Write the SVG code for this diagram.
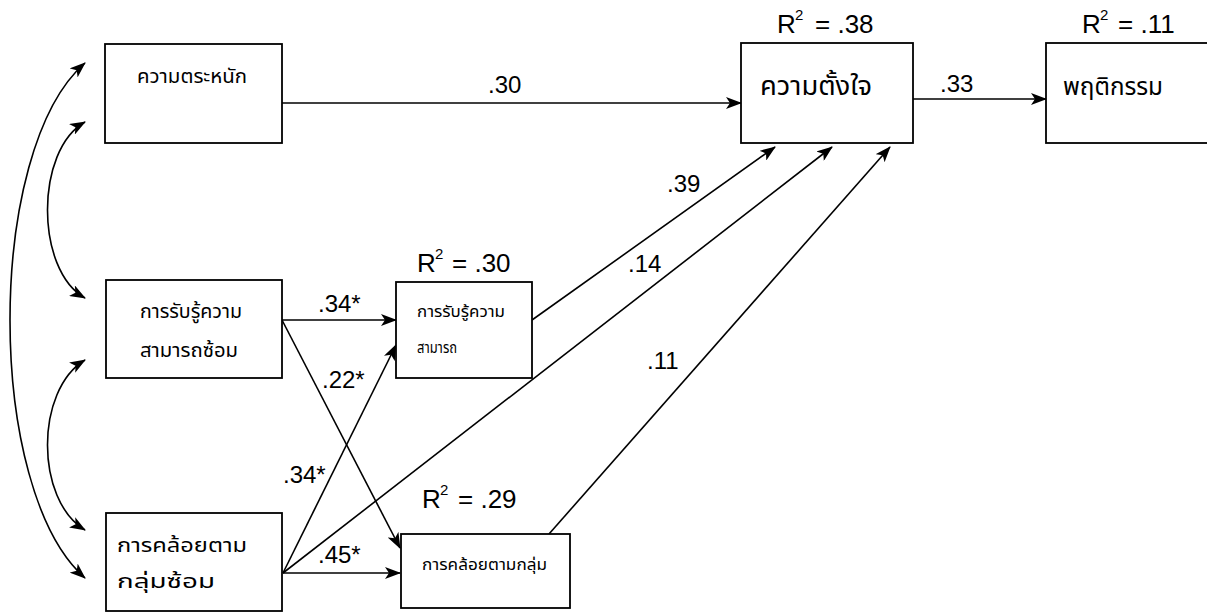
<svg xmlns="http://www.w3.org/2000/svg" width="1207" height="613" viewBox="0 0 1207 613">
<style>
.box{fill:#fff;stroke:#000;stroke-width:1.8}
.th{font-family:"Noto Sans Thai","Noto Sans","Liberation Sans",sans-serif;fill:#000;font-weight:normal}
.num{font-family:"Liberation Sans",Arial,sans-serif;font-size:24px;fill:#000}
.r2{font-family:"Liberation Sans",Arial,sans-serif;font-size:26px;fill:#000}
.sup{font-family:"Liberation Sans",Arial,sans-serif;font-size:15px;fill:#000}
.ln{fill:none;stroke:#000;stroke-width:1.6}
</style>
<defs>
<marker id="ah" markerUnits="userSpaceOnUse" viewBox="0 0 16 12" refX="15" refY="6" markerWidth="16" markerHeight="12" orient="auto-start-reverse">
<path d="M0,0 L16,6 L0,12 L4,6 z" fill="#000"/>
</marker>
</defs>
<rect width="1207" height="613" fill="#fff"/>
<g id="connectors">
<path class="ln" d="M85,63 C-15,150 -15,490 85,578" marker-start="url(#ah)" marker-end="url(#ah)"/>
<path class="ln" d="M85,122 C35,150 35,270 85,298" marker-start="url(#ah)" marker-end="url(#ah)"/>
<path class="ln" d="M85,360 C35,390 35,500 85,530" marker-start="url(#ah)" marker-end="url(#ah)"/>
<line class="ln" x1="282" y1="103" x2="741" y2="103" marker-end="url(#ah)"/>
<line class="ln" x1="913" y1="99" x2="1046" y2="99" marker-end="url(#ah)"/>
<line class="ln" x1="532" y1="320" x2="775" y2="147" marker-end="url(#ah)"/>
<line class="ln" x1="283" y1="573" x2="832" y2="147" marker-end="url(#ah)"/>
<line class="ln" x1="549" y1="534" x2="890" y2="147" marker-end="url(#ah)"/>
<line class="ln" x1="282" y1="320" x2="396" y2="320" marker-end="url(#ah)"/>
<line class="ln" x1="282" y1="320" x2="400" y2="548" marker-end="url(#ah)"/>
<line class="ln" x1="283" y1="573" x2="396" y2="345" marker-end="url(#ah)"/>
<line class="ln" x1="283" y1="573" x2="400" y2="573" marker-end="url(#ah)"/>
<text class="num" x="488" y="93">.30</text>
<text class="num" x="940" y="92">.33</text>
<text class="num" x="667" y="192">.39</text>
<text class="num" x="628" y="272">.14</text>
<text class="num" x="647" y="369">.11</text>
<text class="num" x="318" y="312">.34*</text>
<text class="num" x="322" y="388">.22*</text>
<text class="num" x="283" y="483">.34*</text>
<text class="num" x="318" y="563">.45*</text>
</g>
<g id="n_awareness">
<rect class="box" x="105" y="44" width="177" height="99"/>
<text class="th" x="137" y="83" font-size="19" textLength="110" lengthAdjust="spacingAndGlyphs">ความตระหนัก</text>
</g>
<g id="n_selfefficacy_practice">
<rect class="box" x="106" y="280" width="176" height="98"/>
<text class="th" x="140" y="318" font-size="19" textLength="102" lengthAdjust="spacingAndGlyphs">การรับรู้ความ</text>
<text class="th" x="140" y="357" font-size="19" textLength="98" lengthAdjust="spacingAndGlyphs">สามารถซ้อม</text>
</g>
<g id="n_norm_practice">
<rect class="box" x="106" y="513" width="176" height="98"/>
<text class="th" x="117" y="552" font-size="19" textLength="130" lengthAdjust="spacingAndGlyphs">การคล้อยตาม</text>
<text class="th" x="117" y="588" font-size="19" textLength="98" lengthAdjust="spacingAndGlyphs">กลุ่มซ้อม</text>
</g>
<g id="n_selfefficacy">
<rect class="box" x="396" y="282" width="136" height="96"/>
<text class="r2" x="417" y="272">R</text><text class="sup" x="435" y="259">2</text><text class="r2" x="452" y="272">= .30</text>
<text class="th" x="417" y="317" font-size="15" textLength="88" lengthAdjust="spacingAndGlyphs">การรับรู้ความ</text>
<text class="th" x="417" y="353" font-size="15" textLength="40" lengthAdjust="spacingAndGlyphs">สามารถ</text>
</g>
<g id="n_norm">
<rect class="box" x="401" y="534" width="169" height="74"/>
<text class="r2" x="422" y="508">R</text><text class="sup" x="440" y="495">2</text><text class="r2" x="458" y="508">= .29</text>
<text class="th" x="422" y="570" font-size="15" textLength="125" lengthAdjust="spacingAndGlyphs">การคล้อยตามกลุ่ม</text>
</g>
<g id="n_intention">
<rect class="box" x="741" y="43" width="172" height="100"/>
<text class="r2" x="777" y="33">R</text><text class="sup" x="795" y="20">2</text><text class="r2" x="815" y="33">= .38</text>
<text class="th" x="760" y="95" font-size="26" textLength="112" lengthAdjust="spacingAndGlyphs">ความตั้งใจ</text>
</g>
<g id="n_behavior">
<rect class="box" x="1046" y="43" width="175" height="100"/>
<text class="r2" x="1082" y="33">R</text><text class="sup" x="1100" y="20">2</text><text class="r2" x="1118" y="33">= .11</text>
<text class="th" x="1063" y="95" font-size="25" textLength="100" lengthAdjust="spacingAndGlyphs">พฤติกรรม</text>
</g>
</svg>
